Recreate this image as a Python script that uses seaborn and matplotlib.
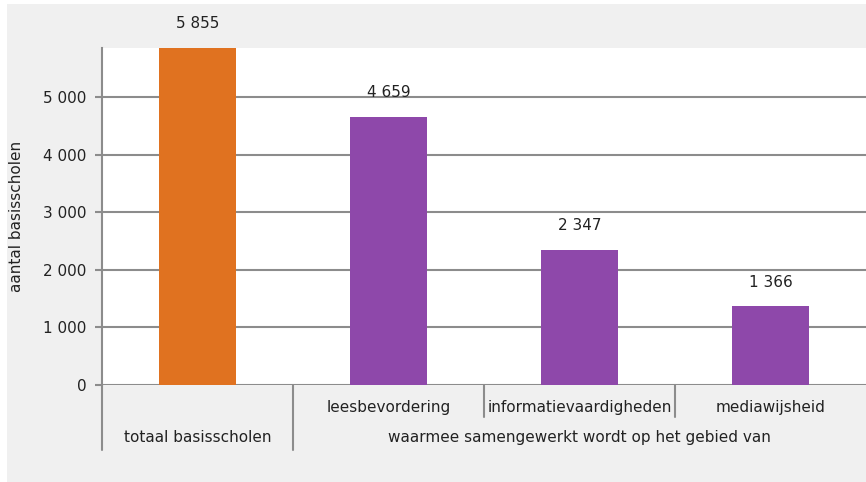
import pandas as pd
import seaborn as sns
import matplotlib.pyplot as plt
from matplotlib.patches import Rectangle

# data
categories = ["totaal basisscholen", "leesbevordering", "informatievaardigheden", "mediawijsheid"]
values = [5855, 4659, 2347, 1366]
bar_colors = ["#E07220", "#8E48AA", "#8E48AA", "#8E48AA"]
level1_labels = ["", "leesbevordering", "informatievaardigheden", "mediawijsheid"]
group_labels = ["totaal basisscholen", "waarmee samengewerkt wordt op het gebied van"]
group_spans = [(0, 0), (1, 3)]
yticks = [0, 1000, 2000, 3000, 4000, 5000]

df = pd.DataFrame({"categorie": categories, "aantal": values})

sns.set_style("white")
plt.rcParams["font.family"] = ["DejaVu Sans"]
fs = 11

grid_color = "#8C8C8C"
text_color = "#222222"

fig = plt.figure(figsize=(8.66, 4.82), dpi=100, facecolor="white")
# grey panel behind everything
fig.patches.append(Rectangle((7 / 866, 0), 1 - 7 / 866, 1 - 4 / 482,
                             transform=fig.transFigure, facecolor="#F0F0F0",
                             edgecolor="none", zorder=-10))

ax = fig.add_axes([102 / 866, 1 - 385 / 482, 1 - 102 / 866, (385 - 48) / 482])
ax.set_facecolor("white")

sns.barplot(data=df, x="categorie", y="aantal", hue="categorie",
            palette=bar_colors, saturation=1, width=0.4, linewidth=0,
            legend=False, ax=ax, zorder=3)

ax.set_ylim(0, 5855)
ax.set_xlim(-0.5, 3.5)
ax.set_yticks(yticks)
ax.set_yticklabels([f"{v:,}".replace(",", " ") for v in yticks], color=text_color,
                   fontsize=fs)
ax.yaxis.grid(True, color=grid_color, linewidth=1.5)
ax.set_axisbelow(True)
ax.tick_params(axis="y", length=5, width=1.5, color=grid_color, pad=6, left=True)
ax.set_xticks([])
ax.set_xlabel("")
ax.set_ylabel("aantal basisscholen", color=text_color, fontsize=fs)
ax.yaxis.set_label_coords(-0.102, 0.5)

for side in ["top", "right", "bottom"]:
    ax.spines[side].set_visible(False)
ax.spines["left"].set_color(grid_color)
ax.spines["left"].set_linewidth(1.5)

# value labels above the bars
for i, v in enumerate(values):
    ax.annotate(f"{v:,}".replace(",", " "), xy=(i, v), xytext=(0, 24),
                textcoords="offset pixels", ha="center", va="center",
                color=text_color, fontsize=fs, annotation_clip=False)

# hierarchical category axis
trans = ax.get_xaxis_transform()
for i, lab in enumerate(level1_labels):
    if lab:
        ax.text(i, -0.068, lab, transform=trans, ha="center", va="center",
                color=text_color, fontsize=fs, clip_on=False)
for lab, (a, b) in zip(group_labels, group_spans):
    ax.text((a + b) / 2, -0.157, lab, transform=trans, ha="center", va="center",
            color=text_color, fontsize=fs, clip_on=False)

# separators
ax.plot([-0.5, -0.5], [0, -0.193], transform=trans, color=grid_color, lw=1.5, clip_on=False)
ax.plot([0.5, 0.5], [0, -0.193], transform=trans, color=grid_color, lw=1.5, clip_on=False)
for x in [1.5, 2.5]:
    ax.plot([x, x], [0, -0.095], transform=trans, color=grid_color, lw=1.5, clip_on=False)

fig.savefig("out.png", dpi=100, facecolor=fig.get_facecolor())
